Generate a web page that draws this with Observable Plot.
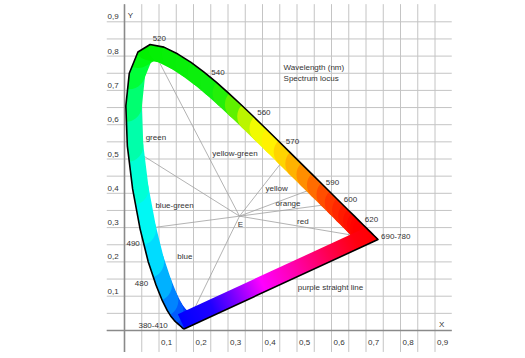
<!DOCTYPE html>
<html><head><meta charset="utf-8">
<script src="https://cdn.jsdelivr.net/npm/d3@7"></script>
<script src="https://cdn.jsdelivr.net/npm/@observablehq/plot@0.6"></script>
<style>body{margin:0;background:#fff} svg{display:block}</style>
</head><body><div id="chart"></div>
<script>
// CIE 1931 spectrum locus (wavelength nm, chromaticity x, y)
const wavelengths = [380,385,390,395,400,405,410,415,420,425,430,435,440,445,450,455,460,465,470,475,480,485,490,495,500,505,510,515,520,525,530,535,540,545,550,555,560,565,570,575,580,585,590,595,600,605,610,615,620,625,630,635,640,645,650,655,660,665,670,675,680,685,690,695,700];
const locusX = [0.1741,0.1740,0.1738,0.1736,0.1733,0.1730,0.1726,0.1721,0.1714,0.1703,0.1689,0.1669,0.1644,0.1611,0.1566,0.1510,0.1440,0.1355,0.1241,0.1096,0.0913,0.0687,0.0454,0.0235,0.0082,0.0039,0.0139,0.0389,0.0743,0.1142,0.1547,0.1929,0.2296,0.2658,0.3016,0.3373,0.3731,0.4087,0.4441,0.4788,0.5125,0.5448,0.5752,0.6029,0.6270,0.6482,0.6658,0.6801,0.6915,0.7006,0.7079,0.7140,0.7190,0.7230,0.7260,0.7283,0.7300,0.7311,0.7320,0.7327,0.7334,0.7340,0.7344,0.7346,0.7347];
const locusY = [0.0050,0.0050,0.0049,0.0049,0.0048,0.0048,0.0048,0.0048,0.0051,0.0058,0.0069,0.0086,0.0109,0.0138,0.0177,0.0227,0.0297,0.0399,0.0578,0.0868,0.1327,0.2007,0.2950,0.4127,0.5384,0.6548,0.7502,0.8120,0.8338,0.8262,0.8059,0.7816,0.7543,0.7243,0.6923,0.6589,0.6245,0.5896,0.5547,0.5202,0.4866,0.4544,0.4242,0.3965,0.3725,0.3514,0.3340,0.3197,0.3083,0.2993,0.2920,0.2859,0.2809,0.2770,0.2740,0.2717,0.2700,0.2689,0.2680,0.2673,0.2666,0.2660,0.2656,0.2654,0.2653];

// band colour stops by wavelength
const bandStopWl    = [380,455,470,478,485,490,495,500,505,510,515,520,550,556,561,566,570,575,580,585,590,595,600,610,620,630,700];
const bandStopColor = ["#0000f0","#0010ff","#0048ff","#0088ff","#00c8ff","#00f0ff","#00ffe8","#00ffc4","#00ff90","#00ff50","#00ff20","#00f000","#10ee10","#40f000","#a8f400","#e8f800","#ffff00","#ffe400","#ffc400","#ffa000","#ff7c00","#ff5c00","#ff4000","#ff2000","#ff0c00","#ff0000","#ff0000"];
// purple straight line gradient (from 700 nm end to 380 nm end)
const purpleStopOffset = [0, 0.1, 0.24, 0.42, 0.58, 0.72, 0.84, 1];
const purpleStopColor  = ["#ff0000","#ff0010","#ff0050","#ff00b0","#ff00ff","#8000ff","#2000ff","#0000ff"];

// grid and axes
const gridValues = [0,0.05,0.1,0.15,0.2,0.25,0.3,0.35,0.4,0.45,0.5,0.55,0.6,0.65,0.7,0.75,0.8,0.85,0.9];
const tickValues = [0.1,0.2,0.3,0.4,0.5,0.6,0.7,0.8,0.9];
const tickLabels = ["0,1","0,2","0,3","0,4","0,5","0,6","0,7","0,8","0,9"];

// lines from the white point E to the spectrum locus
const whitePointX = 1/3, whitePointY = 1/3;
const boundaryWl = [520,500,490,380,575,590,600,700];

// annotations
const labelText = ["520","540","560","570","590","600","620","690-780","490","480","380-410","green","yellow-green","yellow","orange","red","E","blue-green","blue","purple straight line","Y","X"];
const labelX    = [0.101,0.271,0.404,0.487,0.603,0.655,0.716,0.786,0.025,0.049,0.083,0.091,0.320,0.441,0.474,0.517,0.336,0.145,0.175,0.597,0.017,0.919];
const labelY    = [0.851,0.752,0.636,0.551,0.431,0.382,0.324,0.274,0.254,0.137,0.015,0.563,0.516,0.414,0.369,0.318,0.310,0.366,0.216,0.125,0.920,0.017];
const legendText = ["Wavelength (nm)","Spectrum locus"];
const legendX = [0.461,0.461];
const legendY = [0.767,0.735];

const locus = wavelengths.map((w,i)=>({w, x: locusX[i], y: locusY[i]}));
const byWl = new Map(locus.map(d=>[d.w,d]));
const bandColor = d3.scaleLinear().domain(bandStopWl).range(bandStopColor).interpolate(d3.interpolateRgb).clamp(true);
const segments = d3.pairs(locus).map(([a,b])=>({x1:a.x,y1:a.y,x2:b.x,y2:b.y,c:bandColor((a.w+b.w)/2)}));
const pRed = byWl.get(700), pBlue = byWl.get(380);
const purple = [{x1:pRed.x,y1:pRed.y,x2:pBlue.x,y2:pBlue.y}];
const closed = [...locus, locus[0]];
const eLines = boundaryWl.map(w=>({x1:whitePointX,y1:whitePointY,x2:byWl.get(w).x,y2:byWl.get(w).y}));
const labels = labelText.map((t,i)=>({t,x:labelX[i],y:labelY[i]}));
const legend = legendText.map((t,i)=>({t,x:legendX[i],y:legendY[i]}));
const ticks = tickValues.map((v,i)=>({v,t:tickLabels[i]}));
const font = "Liberation Sans, Arial, sans-serif";

const svg = Plot.plot({
  width: 525, height: 358,
  x: {domain:[0,0.95], range:[124,451.75], axis:null},
  y: {domain:[0,0.95], range:[330,4.15], axis:null},
  color: {type:"identity"},
  style: {background:"#fff", fontFamily: font},
  marks: [
    Plot.ruleX(gridValues, {y1:-0.064, y2:0.95, stroke:"#c4c4c4", strokeWidth:1}),
    Plot.ruleY(gridValues, {x1:-0.05, x2:0.95, stroke:"#c4c4c4", strokeWidth:1}),
    Plot.ruleX([0], {y1:-0.064, y2:0.95, stroke:"#8a8a8a", strokeWidth:1.6}),
    Plot.ruleY([0], {x1:-0.05, x2:0.95, stroke:"#8a8a8a", strokeWidth:1.6}),
    Plot.link(eLines, {x1:"x1",y1:"y1",x2:"x2",y2:"y2", stroke:"#a0a0a0", strokeWidth:0.8}),
    Plot.link(segments, {x1:"x1",y1:"y1",x2:"x2",y2:"y2", stroke:"c", strokeWidth:32, strokeLinecap:"round"}),
    Plot.link(purple, {x1:"x1",y1:"y1",x2:"x2",y2:"y2", stroke:"url(#purpleGrad)", strokeWidth:32, strokeLinecap:"butt"}),
    Plot.line(closed, {x:"x", y:"y", stroke:"#000", strokeWidth:1.6, strokeLinejoin:"round"}),
    Plot.text(ticks, {x:"v", y:-0.035, text:"t", textAnchor:"start", dx:2, fontSize:8, fill:"#333"}),
    Plot.text(ticks, {x:-0.049, y:"v", text:"t", textAnchor:"start", dy:-5, fontSize:8, fill:"#333"}),
    Plot.text(labels, {x:"x", y:"y", text:"t", fontSize:8, fill:"#333"}),
    Plot.text(legend, {x:"x", y:"y", text:"t", textAnchor:"start", fontSize:8, fill:"#333"})
  ]
});

const sx = svg.scale("x"), sy = svg.scale("y");
const X = v => sx.apply(v), Y = v => sy.apply(v);
const root = d3.select(svg);
const defs = root.insert("defs", ":first-child");
defs.append("clipPath").attr("id","locusClip").attr("clipPathUnits","userSpaceOnUse").append("path")
  .attr("d", d3.line().x(d=>X(d.x)).y(d=>Y(d.y))(locus) + "Z");
const grad = defs.append("linearGradient").attr("id","purpleGrad").attr("gradientUnits","userSpaceOnUse")
  .attr("x1", X(pRed.x)).attr("y1", Y(pRed.y)).attr("x2", X(pBlue.x)).attr("y2", Y(pBlue.y));
purpleStopOffset.forEach((o,i)=>grad.append("stop").attr("offset", o).attr("stop-color", purpleStopColor[i]));
// clip the thick band strokes to the inside of the locus
root.selectAll("g").filter(function(){ return this.getAttribute("stroke-width") === "32"; })
  .attr("clip-path","url(#locusClip)");
document.getElementById("chart").appendChild(svg);
</script>
</body></html>
